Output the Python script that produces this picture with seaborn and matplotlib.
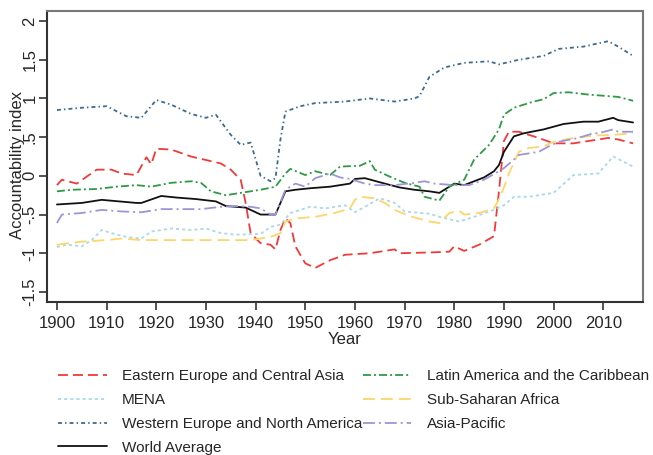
import matplotlib
matplotlib.use("Agg")
import matplotlib.pyplot as plt
import numpy as np
import pandas as pd
import seaborn as sns

# ---- data: accountability index by region (year knots and values) ----
eeca_years = [1900, 1901, 1904, 1908, 1911, 1913, 1916, 1918, 1919, 1920, 1923, 1927, 1931,
              1933, 1935, 1937, 1938, 1939, 1941, 1943, 1944, 1945, 1946, 1947, 1948, 1950,
              1952, 1955, 1958, 1963, 1968, 1969, 1975, 1979, 1980, 1982, 1985, 1988, 1989,
              1990, 1991, 1993, 1997, 2000, 2004, 2009, 2011, 2013, 2016]
eeca_vals = [-0.12, -0.05, -0.10, 0.08, 0.08, 0.03, 0.01, 0.24, 0.15, 0.35, 0.34, 0.25, 0.19,
             0.16, 0.08, -0.05, -0.35, -0.74, -0.87, -0.89, -0.95, -0.70, -0.55, -0.61, -0.91, -1.13,
             -1.19, -1.09, -1.02, -1.00, -0.95, -1.00, -0.99, -0.98, -0.91, -0.97, -0.89, -0.78, -0.20,
             0.45, 0.57, 0.57, 0.49, 0.42, 0.42, 0.47, 0.49, 0.47, 0.42]

lac_years = [1900, 1903, 1908, 1912, 1916, 1919, 1923, 1927, 1929, 1931, 1934, 1937, 1941,
             1944, 1946, 1947, 1950, 1952, 1955, 1957, 1961, 1963, 1964, 1967, 1970, 1973,
             1974, 1977, 1979, 1982, 1984, 1987, 1989, 1990, 1992, 1996, 1998, 2000, 2003,
             2007, 2011, 2013, 2016]
lac_vals = [-0.20, -0.18, -0.17, -0.14, -0.12, -0.14, -0.09, -0.07, -0.09, -0.20, -0.25, -0.22, -0.18,
            -0.14, 0.03, 0.09, 0.01, 0.06, 0.01, 0.12, 0.13, 0.19, 0.08, -0.01, -0.09, -0.14,
            -0.27, -0.32, -0.14, -0.05, 0.21, 0.40, 0.60, 0.79, 0.88, 0.96, 0.99, 1.07, 1.08,
            1.05, 1.03, 1.02, 0.97]

mena_years = [1900, 1902, 1905, 1907, 1909, 1911, 1914, 1917, 1919, 1923, 1927, 1930, 1933,
              1936, 1941, 1943, 1945, 1947, 1951, 1954, 1958, 1960, 1962, 1965, 1968, 1970,
              1975, 1977, 1981, 1984, 1988, 1990, 1992, 1995, 2000, 2004, 2009, 2012, 2016]
mena_vals = [-0.92, -0.89, -0.91, -0.83, -0.70, -0.74, -0.79, -0.81, -0.72, -0.68, -0.70, -0.68, -0.74,
             -0.76, -0.75, -0.66, -0.63, -0.48, -0.40, -0.42, -0.38, -0.47, -0.40, -0.29, -0.35, -0.46,
             -0.49, -0.53, -0.59, -0.53, -0.44, -0.38, -0.27, -0.27, -0.22, 0.01, 0.03, 0.25, 0.12]

ssa_years = [1900, 1905, 1910, 1913, 1917, 1925, 1935, 1939, 1943, 1945, 1946, 1948, 1952,
             1956, 1959, 1960, 1961, 1964, 1966, 1968, 1971, 1975, 1977, 1979, 1981, 1982,
             1985, 1988, 1989, 1990, 1991, 1993, 1995, 1998, 2000, 2004, 2008, 2012, 2016]
ssa_vals = [-0.89, -0.85, -0.83, -0.81, -0.83, -0.83, -0.83, -0.83, -0.79, -0.74, -0.59, -0.55, -0.53,
            -0.48, -0.42, -0.31, -0.27, -0.29, -0.35, -0.44, -0.52, -0.59, -0.61, -0.48, -0.45, -0.50,
            -0.48, -0.42, -0.30, -0.15, 0.03, 0.31, 0.36, 0.38, 0.44, 0.49, 0.52, 0.53, 0.55]

wena_years = [1900, 1905, 1910, 1914, 1917, 1920, 1923, 1927, 1930, 1932, 1935, 1937, 1939,
              1941, 1943, 1944, 1945, 1946, 1949, 1952, 1958, 1963, 1968, 1972, 1973, 1975,
              1978, 1982, 1987, 1989, 1993, 1998, 2001, 2006, 2011, 2013, 2016]
wena_vals = [0.85, 0.88, 0.90, 0.77, 0.75, 0.98, 0.92, 0.80, 0.75, 0.79, 0.53, 0.40, 0.43,
             0.00, -0.07, -0.03, 0.47, 0.83, 0.90, 0.94, 0.96, 1.00, 0.96, 1.00, 1.03, 1.28,
             1.40, 1.46, 1.48, 1.44, 1.50, 1.55, 1.64, 1.67, 1.74, 1.67, 1.55]

ap_years = [1900, 1901, 1905, 1909, 1913, 1917, 1921, 1925, 1929, 1933, 1936, 1939, 1941,
            1943, 1944, 1946, 1948, 1950, 1952, 1955, 1957, 1959, 1962, 1964, 1968, 1972,
            1974, 1976, 1980, 1983, 1986, 1989, 1990, 1992, 1993, 1997, 1999, 2001, 2005,
            2008, 2009, 2012, 2013, 2016]
ap_vals = [-0.61, -0.50, -0.48, -0.44, -0.46, -0.47, -0.43, -0.43, -0.43, -0.40, -0.39, -0.40, -0.42,
           -0.50, -0.50, -0.18, -0.10, -0.14, -0.03, 0.03, -0.02, -0.04, -0.10, -0.12, -0.12, -0.09,
           -0.07, -0.10, -0.12, -0.12, -0.05, 0.06, 0.10, 0.21, 0.27, 0.31, 0.38, 0.44, 0.49,
           0.55, 0.55, 0.60, 0.57, 0.57]

world_years = [1900, 1905, 1909, 1916, 1917, 1921, 1924, 1928, 1932, 1934, 1938, 1941, 1944,
               1946, 1948, 1951, 1955, 1959, 1960, 1962, 1966, 1969, 1972, 1975, 1977, 1980,
               1982, 1986, 1988, 1989, 1990, 1992, 1994, 1998, 2002, 2006, 2009, 2012, 2013, 2016]
world_vals = [-0.37, -0.35, -0.31, -0.35, -0.35, -0.26, -0.28, -0.30, -0.33, -0.39, -0.41, -0.50, -0.50,
              -0.20, -0.18, -0.16, -0.14, -0.10, -0.04, -0.03, -0.10, -0.15, -0.18, -0.20, -0.22, -0.10,
              -0.12, -0.02, 0.06, 0.14, 0.31, 0.51, 0.55, 0.60, 0.67, 0.70, 0.70, 0.75, 0.72, 0.69]

regions = ["Eastern Europe and Central Asia", "MENA", "Western Europe and North America",
           "World Average", "Latin America and the Caribbean", "Sub-Saharan Africa", "Asia-Pacific"]
series = {
    "Eastern Europe and Central Asia": (eeca_years, eeca_vals),
    "MENA": (mena_years, mena_vals),
    "Western Europe and North America": (wena_years, wena_vals),
    "World Average": (world_years, world_vals),
    "Latin America and the Caribbean": (lac_years, lac_vals),
    "Sub-Saharan Africa": (ssa_years, ssa_vals),
    "Asia-Pacific": (ap_years, ap_vals),
}

df = pd.concat(
    [pd.DataFrame({"Year": y, "Index": v, "Region": r}) for r, (y, v) in series.items()],
    ignore_index=True,
)

palette = {
    "Eastern Europe and Central Asia": "#f03a3a",
    "MENA": "#a9d9e8",
    "Western Europe and North America": "#3e6a8e",
    "World Average": "#111111",
    "Latin America and the Caribbean": "#2e9a45",
    "Sub-Saharan Africa": "#fbd66b",
    "Asia-Pacific": "#9d95d8",
}
dashes = {
    "Eastern Europe and Central Asia": (5.5, 2.8),
    "MENA": (1.7, 1.7),
    "Western Europe and North America": (2.2, 1.7, 0.8, 1.7),
    "World Average": "",
    "Latin America and the Caribbean": (4.4, 1.7, 1.1, 1.7),
    "Sub-Saharan Africa": (6.6, 3.3),
    "Asia-Pacific": (6.6, 2.2, 1.1, 2.2),
}

sns.set_style("ticks")
plt.rcParams["font.family"] = ["Liberation Sans", "DejaVu Sans"]

fig = plt.figure(figsize=(6.53, 4.55), dpi=100)
ax = fig.add_axes([47 / 653, 1 - 302 / 455, 596 / 653, 291 / 455])

sns.lineplot(data=df, x="Year", y="Index", hue="Region", style="Region",
             hue_order=regions, style_order=regions, palette=palette, dashes=dashes,
             linewidth=1.3, errorbar=None, legend=False, ax=ax)

ax.set_xlim(1898, 2018)
ax.set_ylim(-1.63, 2.13)
ax.set_xticks(np.arange(1900, 2011, 10))
yt = [-1.5, -1, -0.5, 0, 0.5, 1, 1.5, 2]
ax.set_yticks(yt)
ax.set_yticklabels(["-1.5", "-1", "-.5", "0", ".5", "1", "1.5", "2"],
                   rotation=90, va="center")
ax.tick_params(axis="both", labelsize=12, length=6, width=1.2, color="#333333")
ax.tick_params(axis="x", pad=4)
ax.tick_params(axis="y", pad=1)
ax.set_xlabel("Year", fontsize=12, labelpad=1)
ax.set_ylabel("Accountability index", fontsize=12)
ax.yaxis.set_label_coords(-0.037, 0.47)

for side in ["left", "bottom"]:
    ax.spines[side].set_color("#333333")
    ax.spines[side].set_linewidth(1.5)
for side in ["top", "right"]:
    ax.spines[side].set_color("#777777")
    ax.spines[side].set_linewidth(1.5)

handles = ax.get_lines()[:len(regions)]
ax.legend(handles, regions, ncol=2, frameon=False, fontsize=11,
          loc="upper left", bbox_to_anchor=(58 / 653, 1 - 369 / 455),
          bbox_transform=fig.transFigure, borderpad=0, borderaxespad=0,
          handlelength=3.2, handletextpad=1.0, columnspacing=0.0, labelspacing=0.65)

fig.savefig("out.png", dpi=100)
